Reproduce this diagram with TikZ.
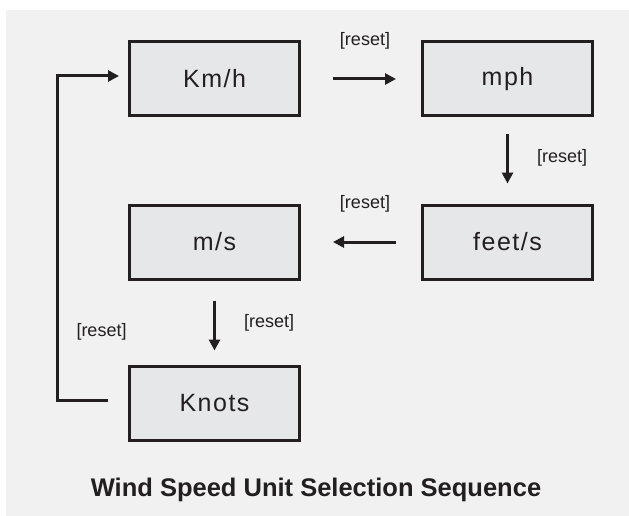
\documentclass[tikz,border=0pt]{standalone}
\usepackage{fontspec}
\setmainfont{Liberation Sans}
\newfontfamily\unitfont[LetterSpace=6]{Liberation Sans}
\usepackage{xcolor}
\definecolor{ink}{HTML}{231F20}
\definecolor{boxgray}{HTML}{E6E7E8}
\definecolor{bggray}{HTML}{F1F1F1}
\usepackage{tikz}
\usetikzlibrary{arrows.meta,positioning}
\tikzset{
  unit/.style={draw=ink,line width=3pt,fill=boxgray,minimum width=170pt,%
    minimum height=74pt,font=\unitfont\fontsize{25}{29}\selectfont,text=ink},
  trig/.style={font=\fontsize{18}{21}\selectfont,text=ink,inner sep=0pt},
  flow/.style={-{Triangle[length=11pt,width=11pt]},line width=3pt,draw=ink},
}

\begin{document}
\begin{tikzpicture}[x=1pt,y=-1pt]
\useasboundingbox (0,0) rectangle (629,516);
\fill[bggray] (6,10) rectangle (629,516);
\node[unit] at (214.5,79) (kmh) {Km/h};
\node[unit,right=120pt of kmh] (mph) {mph};
\node[unit,below=86pt of mph] (fts) {feet/s};
\node[unit,left=120pt of fts] (ms) {m/s};
\node[unit,below=84pt of ms] (kn) {Knots};
\draw[flow,shorten <=32pt,shorten >=25pt] (kmh) --
  node[trig,above=28pt,xshift=4pt] (r1) {[reset]} (mph);
\draw[flow,shorten <=17pt,shorten >=20pt] (mph) --
  node[trig,right=28pt,yshift=3pt] (r2) {[reset]} (fts);
\draw[flow,shorten <=25pt,shorten >=32pt] (fts) --
  node[trig,above=28pt,xshift=4pt] (r3) {[reset]} (ms);
\draw[flow,shorten <=20pt,shorten >=14pt] (ms) --
  node[trig,right=28pt] (r4) {[reset]} (kn);
\draw[flow,shorten <=20pt,shorten >=9pt] ([yshift=3pt]kn.west) -- ++(-71,0)
  |- node[trig,pos=0.105,right=18pt] (r5) {[reset]} ([yshift=3pt]kmh.west);
\node[font=\bfseries\fontsize{25.5}{30}\selectfont,text=ink] (title) at (316,490)
  {Wind Speed Unit Selection Sequence};
\end{tikzpicture}
\end{document}
